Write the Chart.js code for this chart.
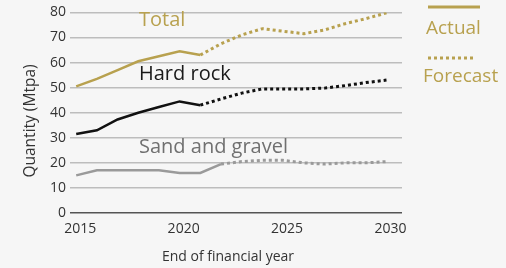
<!DOCTYPE html>
<html>
<head>
<meta charset="utf-8">
<script src="https://cdn.jsdelivr.net/npm/chart.js@4.4.1/dist/chart.umd.min.js"></script>
<style>
  html, body { margin: 0; padding: 0; background: #f6f6f6; }
  #wrap { width: 506px; height: 268px; position: relative; }
</style>
</head>
<body>
<div id="wrap"><canvas id="chart" width="506" height="268"></canvas></div>
<script>
// ---- data ----
const actualYears = [2015, 2016, 2017, 2018, 2019, 2020, 2021];
const forecastYears = [2021, 2022, 2023, 2024, 2025, 2026, 2027, 2028, 2029, 2030];
const sandActualYears = [2015, 2016, 2017, 2018, 2019, 2020, 2021, 2022];
const sandForecastYears = [2022, 2023, 2024, 2025, 2026, 2027, 2028, 2029, 2030];

const totalActual = [50.5, 53.5, 57, 60.5, 62.5, 64.5, 63];
const totalForecast = [63, 67.5, 71, 73.5, 72.5, 71.5, 73, 75.5, 77.5, 79.8];
const hardActual = [31.5, 33, 37.3, 40, 42.3, 44.5, 43];
const hardForecast = [43, 45.5, 47.8, 49.5, 49.5, 49.5, 49.8, 50.8, 52, 53];
const sandActual = [15, 17, 17, 17, 17, 16, 16, 19.5];
const sandForecast = [19.5, 20.5, 21, 21, 20, 19.5, 20, 20, 20.5];

const xTicks = [2015, 2020, 2025, 2030];
const yTicks = [0, 10, 20, 30, 40, 50, 60, 70, 80];

const GOLD = '#b8a14f';
const BLACK = '#111111';
const GREY = '#9a9a9a';
const FONT = '"Open Sans", "DejaVu Sans", sans-serif';

function pts(xs, ys) {
    return xs.map((x, i) => ({ x: x, y: ys[i] }));
}

function line(data, color, dashed) {
    return {
        data: data,
        borderColor: color,
        borderWidth: dashed ? 3 : 2.5,
        borderDash: dashed ? [3, 3] : [],
        pointRadius: 0,
        tension: 0,
        fill: false
    };
}

// labels, legend and axis titles drawn on the canvas
const annotations = {
    id: 'annotations',
    afterDraw(chart) {
        const c = chart.ctx;
        c.save();
        c.textBaseline = 'middle';
        c.textAlign = 'left';

        c.font = '20px ' + FONT;
        c.fillStyle = GOLD;
        c.fillText('Total', 139, 20);
        c.fillStyle = '#1a1a1a';
        c.fillText('Hard rock', 139, 74);
        c.fillStyle = '#707070';
        c.fillText('Sand and gravel', 139, 147);

        // legend
        c.strokeStyle = GOLD;
        c.lineWidth = 3;
        c.beginPath();
        c.moveTo(428, 7);
        c.lineTo(480, 7);
        c.stroke();
        c.setLineDash([3, 3]);
        c.beginPath();
        c.moveTo(428, 58);
        c.lineTo(474, 58);
        c.stroke();
        c.setLineDash([]);
        c.font = '19px ' + FONT;
        c.fillStyle = GOLD;
        c.fillText('Actual', 426, 29);
        c.fillText('Forecast', 423, 77);

        // axis titles
        c.fillStyle = '#333';
        c.font = '14px ' + FONT;
        c.textAlign = 'center';
        c.fillText('End of financial year', 228, 257);
        c.font = '15.5px ' + FONT;
        c.translate(31, 121);
        c.rotate(-Math.PI / 2);
        c.fillText('Quantity (Mtpa)', 0, 0);
        c.restore();
    }
};

new Chart(document.getElementById('chart'), {
    type: 'line',
    data: {
        datasets: [
            line(pts(sandActualYears, sandActual), GREY, false),
            line(pts(sandForecastYears, sandForecast), GREY, true),
            line(pts(actualYears, hardActual), BLACK, false),
            line(pts(forecastYears, hardForecast), BLACK, true),
            line(pts(actualYears, totalActual), GOLD, false),
            line(pts(forecastYears, totalForecast), GOLD, true)
        ]
    },
    options: {
        responsive: false,
        animation: false,
        layout: { padding: { top: 9, right: 104, left: 0, bottom: 0 } },
        plugins: { legend: { display: false }, tooltip: { enabled: false } },
        scales: {
            x: {
                type: 'linear',
                min: 2014.7,
                max: 2030.75,
                afterBuildTicks: (s) => { s.ticks = xTicks.map(v => ({ value: v })); },
                afterFit: (s) => { s.height = 55; },
                grid: { display: false },
                border: { display: false },
                ticks: {
                    padding: 0,
                    labelOffset: 4,
                    color: '#333',
                    font: { family: FONT, size: 14 },
                    callback: (v) => String(v)
                }
            },
            y: {
                min: 0,
                max: 80,
                afterBuildTicks: (s) => { s.ticks = yTicks.map(v => ({ value: v })); },
                afterFit: (s) => { s.width = 70; },
                border: { display: false },
                grid: {
                    drawTicks: false,
                    lineWidth: 1.5,
                    color: (ctx) => ctx.tick && ctx.tick.value === 0 ? '#555' : '#bdbdbd'
                },
                ticks: {
                    padding: 4,
                    color: '#333',
                    font: { family: FONT, size: 14 }
                }
            }
        }
    },
    plugins: [annotations]
});
</script>
</body>
</html>
